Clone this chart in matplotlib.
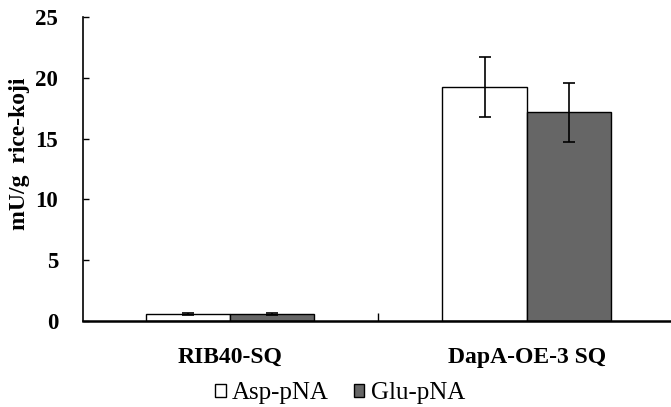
import numpy as np
import matplotlib.pyplot as plt

# data
strains = ['RIB40-SQ', 'DapA-OE-3 SQ']
asp_mean = [0.55, 19.25]
asp_err = [0.08, 2.5]
glu_mean = [0.55, 17.15]
glu_err = [0.08, 2.45]
series = ['Asp-pNA', 'Glu-pNA']

plt.rcParams['font.family'] = ['Liberation Serif', 'DejaVu Serif']

fig = plt.figure(figsize=(6.71, 4.07), dpi=100)
ax = fig.add_axes([83 / 671, 86 / 407, 1 - 83 / 671, 304 / 407])

x = np.arange(len(strains))
w = 0.2845
ax.bar(x - w / 2, asp_mean, w, yerr=asp_err, color='white', edgecolor='black',
       linewidth=1.0, capsize=4, error_kw=dict(elinewidth=1.2, capthick=1.2),
       label=series[0])
ax.bar(x + w / 2, glu_mean, w, yerr=glu_err, color='#666666', edgecolor='black',
       linewidth=1.0, capsize=4, error_kw=dict(elinewidth=1.2, capthick=1.2),
       label=series[1])

ax.set_xlim(-0.495, 1.485)
ax.set_ylim(0, 25)
ax.set_yticks(range(0, 26, 5))
ax.tick_params(axis='y', direction='in', length=4, width=1, labelsize=16.5, pad=18)
for t in ax.get_yticklabels():
    t.set_fontweight('bold')

# category labels, with a single boundary tick between categories
ax.set_xticks([0.5])
ax.set_xticklabels([''])
ax.tick_params(axis='x', direction='in', length=6, width=1)
for xi, name in zip(x, strains):
    ax.text(xi, -0.12, name, transform=ax.get_xaxis_transform(), ha='center',
            va='center', fontsize=17, fontweight='bold')

for s in ['top', 'right']:
    ax.spines[s].set_visible(False)
ax.spines['left'].set_linewidth(1.2)
ax.spines['bottom'].set_linewidth(1.8)

fig.text(20 / 671, 1 - 154 / 407, 'mU/g  rice-koji', rotation=90, ha='center',
         va='center', fontsize=17, fontweight='bold')

fig.legend(loc='center', bbox_to_anchor=(340 / 671, 1 - 393 / 407), ncol=2,
           frameon=False, fontsize=18, handlelength=0.42, handleheight=0.42,
           handletextpad=0.25, columnspacing=1.0)

fig.savefig('out.png', dpi=100)
